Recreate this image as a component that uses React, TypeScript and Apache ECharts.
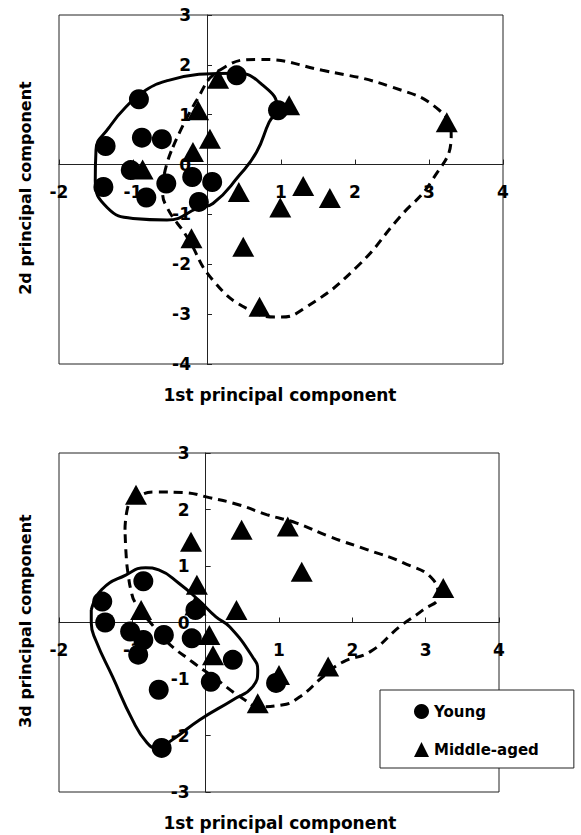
import React, { useEffect, useRef } from 'react';
import * as echarts from 'echarts';

// 1st vs 2nd principal component
const youngPC12: [number, number][] = [
  [-0.92, 1.31], [-1.37, 0.37], [-0.88, 0.54], [-0.61, 0.51], [-1.03, -0.11],
  [-0.55, -0.38], [-1.4, -0.45], [-0.82, -0.66], [-0.2, -0.25], [0.07, -0.35],
  [-0.11, -0.75], [0.4, 1.79], [0.96, 1.09],
];
const middlePC12: [number, number][] = [
  [0.15, 1.72], [1.11, 1.19], [-0.12, 1.09], [0.04, 0.52], [-0.19, 0.25],
  [3.24, 0.85], [0.43, -0.55], [1.3, -0.43], [1.66, -0.67], [0.99, -0.86],
  [0.49, -1.65], [0.71, -2.85], [-0.21, -1.48], [-0.87, -0.1],
];
const youngHullPC12: [number, number][] = [
  [-0.11, 1.81], [0.4, 1.83], [0.74, 1.61], [0.95, 1.13], [0.84, 0.85], [0.67, 0.25],
  [0.44, -0.21], [0.08, -0.78], [-0.1, -0.86], [-0.54, -1.11], [-1.0, -1.08],
  [-1.35, -0.86], [-1.51, -0.32], [-1.5, 0.29], [-1.32, 0.75], [-1.1, 1.15],
  [-0.83, 1.49], [-0.52, 1.69],
];
const middleHullPC12: [number, number][] = [
  [-0.46, 0.35], [-0.14, 1.29], [0.17, 1.89], [0.71, 2.11], [1.56, 1.89], [2.51, 1.55],
  [3.14, 1.09], [3.3, 0.59], [3.04, -0.32], [2.6, -1.06], [2.02, -2.06], [1.34, -2.86],
  [0.98, -3.06], [0.58, -2.92], [0.08, -2.32], [-0.27, -1.45], [-0.54, -0.86],
  [-0.6, -0.52],
];

// 1st vs 3rd principal component
const youngPC13: [number, number][] = [
  [-0.85, 0.73], [-1.41, 0.37], [-1.37, 0.0], [-1.03, -0.16], [-0.85, -0.31],
  [-0.57, -0.22], [-0.92, -0.57], [-0.64, -1.19], [-0.19, -0.28], [0.07, -1.05],
  [-0.14, 0.22], [0.37, -0.66], [0.96, -1.07], [-0.6, -2.22],
];
const middlePC13: [number, number][] = [
  [-0.95, 2.26], [-0.2, 1.43], [0.49, 1.64], [1.12, 1.7], [0.42, 0.22], [-0.88, 0.22],
  [-0.12, 0.67], [-0.14, 0.3], [0.05, -0.22], [0.1, -0.58], [0.71, -1.43],
  [1.0, -0.93], [1.31, 0.9], [3.24, 0.61], [1.67, -0.78],
];
const youngHullPC13: [number, number][] = [
  [-1.56, 0.22], [-1.42, 0.58], [-1.09, 0.84], [-0.82, 0.97], [-0.64, 0.93], [-0.37, 0.7],
  [-0.1, 0.4], [0.14, 0.1], [0.33, -0.08], [0.64, -0.61], [0.71, -0.84], [0.64, -1.14],
  [0.37, -1.37], [-0.08, -1.72], [-0.45, -2.07], [-0.67, -2.22], [-0.8, -2.13],
  [-1.0, -1.72], [-1.27, -0.96], [-1.5, -0.31], [-1.56, -0.01],
];
const middleHullPC13: [number, number][] = [
  [-1.1, 1.64], [-1.06, 2.05], [-0.94, 2.22], [-0.67, 2.31], [-0.31, 2.3], [0.05, 2.21],
  [0.46, 2.08], [0.83, 1.91], [1.24, 1.76], [1.69, 1.52], [2.2, 1.29], [2.69, 1.06],
  [3.1, 0.76], [3.17, 0.46], [2.96, 0.22], [2.65, -0.07], [2.24, -0.52], [1.87, -0.7],
  [1.6, -0.96], [1.28, -1.32], [1.04, -1.46], [0.74, -1.49], [0.5, -1.34], [0.1, -0.96],
  [-0.18, -0.7], [-0.53, -0.34], [-0.71, -0.07], [-0.96, 0.35], [-1.02, 0.58],
  [-1.05, 0.79], [-1.08, 1.11],
];

const xLabel = '1st principal component';
const yLabelTop = '2d principal component';
const yLabelBottom = '3d principal component';
const seriesNames = ['Young', 'Middle-aged'];

const FONT = 'DejaVu Sans';
const INK = '#000';

const GRIDS = [
  { left: 59, top: 15, width: 444, height: 349, xMin: -2, xMax: 4, yMin: -4, yMax: 3 },
  { left: 59, top: 453, width: 440, height: 339, xMin: -2, xMax: 4, yMin: -3, yMax: 3 },
];

const close = (pts: [number, number][]) => [...pts, pts[0]];

const labelStyle = {
  fontFamily: FONT,
  fontWeight: 'bold',
  fontSize: 17,
  color: INK,
};

function xAxisFor(i: number) {
  const g = GRIDS[i];
  const zeroY = g.top + (g.height * g.yMax) / (g.yMax - g.yMin);
  return {
    type: 'value',
    gridIndex: i,
    min: g.xMin,
    max: g.xMax,
    interval: 1,
    position: 'bottom',
    offset: -(g.top + g.height - zeroY),
    axisLine: { onZero: false, lineStyle: { color: '#222', width: 1 } },
    axisTick: { show: true, inside: true, length: 5, lineStyle: { color: '#222' } },
    splitLine: { show: false },
    axisLabel: {
      ...labelStyle,
      showMinLabel: true,
      showMaxLabel: true,
      margin: 19,
      formatter: (v: number) => (v === 0 ? '' : String(v)),
    },
  };
}

function yAxisFor(i: number) {
  const g = GRIDS[i];
  const zeroX = g.left + (g.width * -g.xMin) / (g.xMax - g.xMin);
  return {
    type: 'value',
    gridIndex: i,
    min: g.yMin,
    max: g.yMax,
    interval: 1,
    position: 'left',
    offset: -(zeroX - g.left),
    axisLine: { onZero: false, lineStyle: { color: '#222', width: 1 } },
    axisTick: { show: true, inside: true, length: 5, lineStyle: { color: '#222' } },
    splitLine: { show: false },
    axisLabel: {
      ...labelStyle,
      showMinLabel: true,
      showMaxLabel: true,
      margin: 16,
      formatter: (v: number) => String(v),
    },
  };
}

function hull(name: string, idx: number, pts: [number, number][], dashed: boolean) {
  return {
    name,
    type: 'line',
    xAxisIndex: idx,
    yAxisIndex: idx,
    data: close(pts),
    smooth: 0.5,
    symbol: 'none',
    silent: true,
    z: 2,
    lineStyle: { color: INK, width: 3, type: dashed ? [9, 6] : 'solid' },
  };
}

function scatter(name: string, idx: number, pts: [number, number][], tri: boolean) {
  return {
    name,
    type: 'scatter',
    xAxisIndex: idx,
    yAxisIndex: idx,
    data: pts,
    symbol: tri ? 'triangle' : 'circle',
    symbolSize: tri ? [22, 20] : 20,
    itemStyle: { color: INK, opacity: 1 },
    z: 3,
  };
}

export default function App() {
  const ref = useRef<HTMLDivElement>(null);
  useEffect(() => {
    document.body.style.margin = '0';
    const chart = echarts.init(ref.current!, null, { renderer: 'svg' });
    const titleFont = (size: number) => `bold ${size}px "${FONT}"`;
    chart.setOption({
      animation: false,
      backgroundColor: '#fff',
      grid: GRIDS.map((g) => ({
        left: g.left,
        top: g.top,
        width: g.width,
        height: g.height,
        show: true,
        borderColor: '#222',
        borderWidth: 1,
      })),
      xAxis: [xAxisFor(0), xAxisFor(1)],
      yAxis: [yAxisFor(0), yAxisFor(1)],
      legend: {
        data: [
          { name: seriesNames[0], icon: 'circle' },
          { name: seriesNames[1], icon: 'triangle' },
        ],
        orient: 'vertical',
        left: 380,
        top: 690,
        padding: [14, 35, 11, 34],
        itemGap: 23,
        itemWidth: 15,
        itemHeight: 15,
        backgroundColor: '#fff',
        borderColor: '#222',
        borderWidth: 1,
        z: 10,
        textStyle: { fontFamily: FONT, fontWeight: 'bold', fontSize: 15, color: INK },
      },
      graphic: [
        { type: 'text', x: 280, y: 395, style: { text: xLabel, font: titleFont(17), fill: INK, align: 'center', verticalAlign: 'middle' } },
        { type: 'text', x: 280, y: 823, style: { text: xLabel, font: titleFont(17), fill: INK, align: 'center', verticalAlign: 'middle' } },
        { type: 'text', x: 25, y: 188, rotation: Math.PI / 2, style: { text: yLabelTop, font: titleFont(16), fill: INK, align: 'center', verticalAlign: 'middle' } },
        { type: 'text', x: 25, y: 621, rotation: Math.PI / 2, style: { text: yLabelBottom, font: titleFont(16), fill: INK, align: 'center', verticalAlign: 'middle' } },
      ],
      series: [
        hull('hullYoung12', 0, youngHullPC12, false),
        hull('hullMiddle12', 0, middleHullPC12, true),
        scatter(seriesNames[0], 0, youngPC12, false),
        scatter(seriesNames[1], 0, middlePC12, true),
        hull('hullYoung13', 1, youngHullPC13, false),
        hull('hullMiddle13', 1, middleHullPC13, true),
        scatter(seriesNames[0], 1, youngPC13, false),
        scatter(seriesNames[1], 1, middlePC13, true),
      ],
    });
    return () => chart.dispose();
  }, []);
  return <div ref={ref} style={{ width: 581, height: 835 }} />;
}
